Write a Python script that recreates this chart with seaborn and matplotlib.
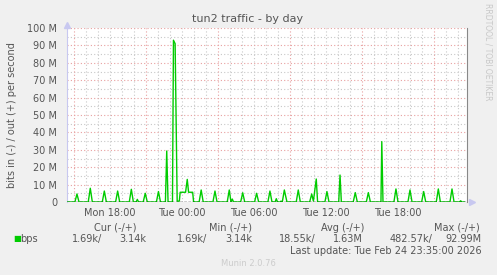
import matplotlib
matplotlib.use("Agg")
import matplotlib.pyplot as plt
import seaborn as sns
import pandas as pd

# ---- data (hours since Mon 00:00, out traffic in Mbit/s) ----
times = [14.42,
         15.08, 15.25, 15.42,
         16.19, 16.36, 16.53,
         17.36, 17.53, 17.70,
         18.47, 18.64, 18.81,
         19.61, 19.78, 19.95,
         20.18, 20.28, 20.38,
         20.77, 20.94, 21.11,
         21.87, 22.04, 22.21,
         22.62, 22.73, 22.84,
         23.21, 23.29, 23.43, 23.60,
         23.78, 23.85, 24.30, 24.44, 24.55, 24.89, 24.97,
         25.43, 25.60, 25.77,
         26.58, 26.75, 26.92,
         27.77, 27.94, 28.08, 28.19, 28.30,
         28.89, 29.06, 29.23,
         30.05, 30.22, 30.39,
         31.16, 31.33, 31.50,
         31.76, 31.86, 31.96,
         32.17, 32.25, 32.36, 32.53, 32.62, 32.75,
         33.52, 33.69, 33.86,
         34.64, 34.81, 34.95, 35.19, 35.30,
         35.91, 36.08, 36.25,
         37.06, 37.17, 37.28,
         38.27, 38.44, 38.61,
         39.36, 39.53, 39.70,
         40.58, 40.65, 40.75,
         41.66, 41.83, 42.00,
         42.83, 43.00, 43.17,
         43.97, 44.14, 44.31,
         45.19, 45.36, 45.53,
         46.33, 46.50, 46.67,
         47.12, 47.22, 47.32,
         47.55]
out_mbps = [0,
            0, 4.6, 0,
            0, 7.9, 0,
            0, 6.3, 0,
            0, 6.3, 0,
            0, 7.3, 0,
            0, 1.5, 0,
            0, 5.0, 0,
            0, 6.0, 0,
            0, 29.3, 0,
            0, 93.0, 91.0, 0.5,
            0.5, 5.6, 5.6, 13.0, 5.6, 5.6, 0,
            0, 6.9, 0,
            0, 6.3, 0,
            0, 6.9, 0, 1.7, 0,
            0, 5.3, 0,
            0, 5.0, 0,
            0, 6.3, 0,
            0, 1.9, 0,
            0, 0.5, 0, 6.9, 4.0, 0,
            0, 6.9, 0,
            0, 4.6, 0.5, 13.2, 0,
            0, 6.0, 0,
            0, 15.5, 0,
            0, 5.4, 0,
            0, 5.4, 0,
            0, 34.7, 0,
            0, 7.5, 0,
            0, 6.9, 0,
            0, 6.0, 0,
            0, 7.5, 0,
            0, 7.5, 0,
            0, 0.7, 0,
            0]

xtick_pos = [18, 24, 30, 36, 42]
xtick_labels = ["Mon 18:00", "Tue 00:00", "Tue 06:00", "Tue 12:00", "Tue 18:00"]
ytick_pos = [0, 10, 20, 30, 40, 50, 60, 70, 80, 90, 100]
ytick_labels = ["0", "10 M", "20 M", "30 M", "40 M", "50 M", "60 M", "70 M", "80 M", "90 M", "100 M"]

legend_headers = ["Cur (-/+)", "Min (-/+)", "Avg (-/+)", "Max (-/+)"]
legend_in = ["1.69k/", "1.69k/", "18.55k/", "482.57k/"]
legend_out = ["3.14k", "3.14k", "1.63M", "92.99M"]

df = pd.DataFrame({"time": times, "out": out_mbps})

# ---- style ----
sns.set_style("white")
plt.rcParams["font.family"] = ["DejaVu Sans"]
TXT = "#555555"
GREEN = "#00CC00"
W, H = 497, 275
fig = plt.figure(figsize=(W / 100, H / 100), dpi=100, facecolor="#F0F0F0")
ax = fig.add_axes([67 / W, (H - 202) / H, 400 / W, 174 / H])
ax.set_facecolor("white")

x0, x1 = 14.42, 47.75
ax.set_xlim(x0, x1)
ax.set_ylim(0, 100)

# grid
for h in range(15, 48):
    if (h - 15) % 6 == 0:
        ax.axvline(h, color="#E8A0A0", lw=0.8, ls=(0, (1, 2)), zorder=1)
    else:
        ax.axvline(h, color="#C8C8C8", lw=0.8, ls=(0, (1, 2)), zorder=0.5)
for v in range(5, 101, 5):
    if v % 10 == 0:
        ax.axhline(v, color="#E8A0A0", lw=0.8, ls=(0, (1, 2)), zorder=1)
    else:
        ax.axhline(v, color="#C8C8C8", lw=0.8, ls=(0, (1, 2)), zorder=0.5)

sns.lineplot(data=df, x="time", y="out", ax=ax, color=GREEN, lw=1.0, zorder=3,
             estimator=None, sort=False)
ax.axhline(0, color="black", lw=1.0, ls=(0, (2, 1)), zorder=4)

# spines
for s in ["top", "bottom"]:
    ax.spines[s].set_visible(False)
ax.spines["left"].set_color("#C8C8F0")
ax.spines["left"].set_linewidth(0.8)
ax.spines["right"].set_color("#888888")
ax.spines["right"].set_linewidth(0.8)

# arrows at axis ends
ax.plot([0], [1.02], marker="^", ms=4, color="#C8C8F0", transform=ax.transAxes, clip_on=False)
ax.plot([1.012], [0], marker=">", ms=4, color="#C8C8F0", transform=ax.transAxes, clip_on=False)

# ticks
ax.set_xticks([15, 21, 27, 33, 39, 45])
ax.set_xticklabels([])
ax.tick_params(axis="x", which="major", length=3, color="#E8A0A0", direction="out")
ax.set_xticks(xtick_pos, minor=True)
ax.set_xticklabels(xtick_labels, minor=True)
ax.tick_params(axis="x", which="minor", length=0, pad=4, labelsize=7, labelcolor=TXT)
ax.set_yticks(ytick_pos)
ax.set_yticklabels(ytick_labels)
ax.tick_params(axis="y", length=2, color="#C8C8F0", pad=5, labelsize=7, labelcolor=TXT)
ax.set_xlabel("")
ax.set_ylabel("")

# texts
fig.text(248 / W, 1 - 19 / H, "tun2 traffic - by day", ha="center", va="center",
         fontsize=8, color=TXT)
fig.text(12 / W, 1 - 115 / H, "bits in (-) / out (+) per second", rotation=90,
         ha="center", va="center", fontsize=7, color=TXT)
fig.text(488 / W, 1 - 52 / H, "RRDTOOL / TOBI OETIKER", rotation=270,
         ha="center", va="center", fontsize=5.5, color="#C8C8C8")

hdr_x = [137, 252, 364, 480]
for x, t in zip(hdr_x, legend_headers):
    fig.text(x / W, 1 - 228 / H, t, ha="right", va="center", fontsize=7, color=TXT)
in_x = [102, 207, 316, 432]
out_x = [146, 252, 363, 482]
for xi, xo, ti, to in zip(in_x, out_x, legend_in, legend_out):
    fig.text(xi / W, 1 - 239 / H, ti, ha="right", va="center", fontsize=7, color=TXT)
    fig.text(xo / W, 1 - 239 / H, to, ha="right", va="center", fontsize=7, color=TXT)
fig.text(13 / W, 1 - 239 / H, "\u25A0", ha="left", va="center", fontsize=6, color=GREEN)
fig.text(20 / W, 1 - 239 / H, "bps", ha="left", va="center", fontsize=7, color=TXT)
fig.text(482 / W, 1 - 251 / H, "Last update: Tue Feb 24 23:35:00 2026", ha="right",
         va="center", fontsize=7, color=TXT)
fig.text(248 / W, 1 - 263 / H, "Munin 2.0.76", ha="center", va="center",
         fontsize=6, color="#CCCCCC")

fig.savefig("out.png", dpi=100, facecolor=fig.get_facecolor())
